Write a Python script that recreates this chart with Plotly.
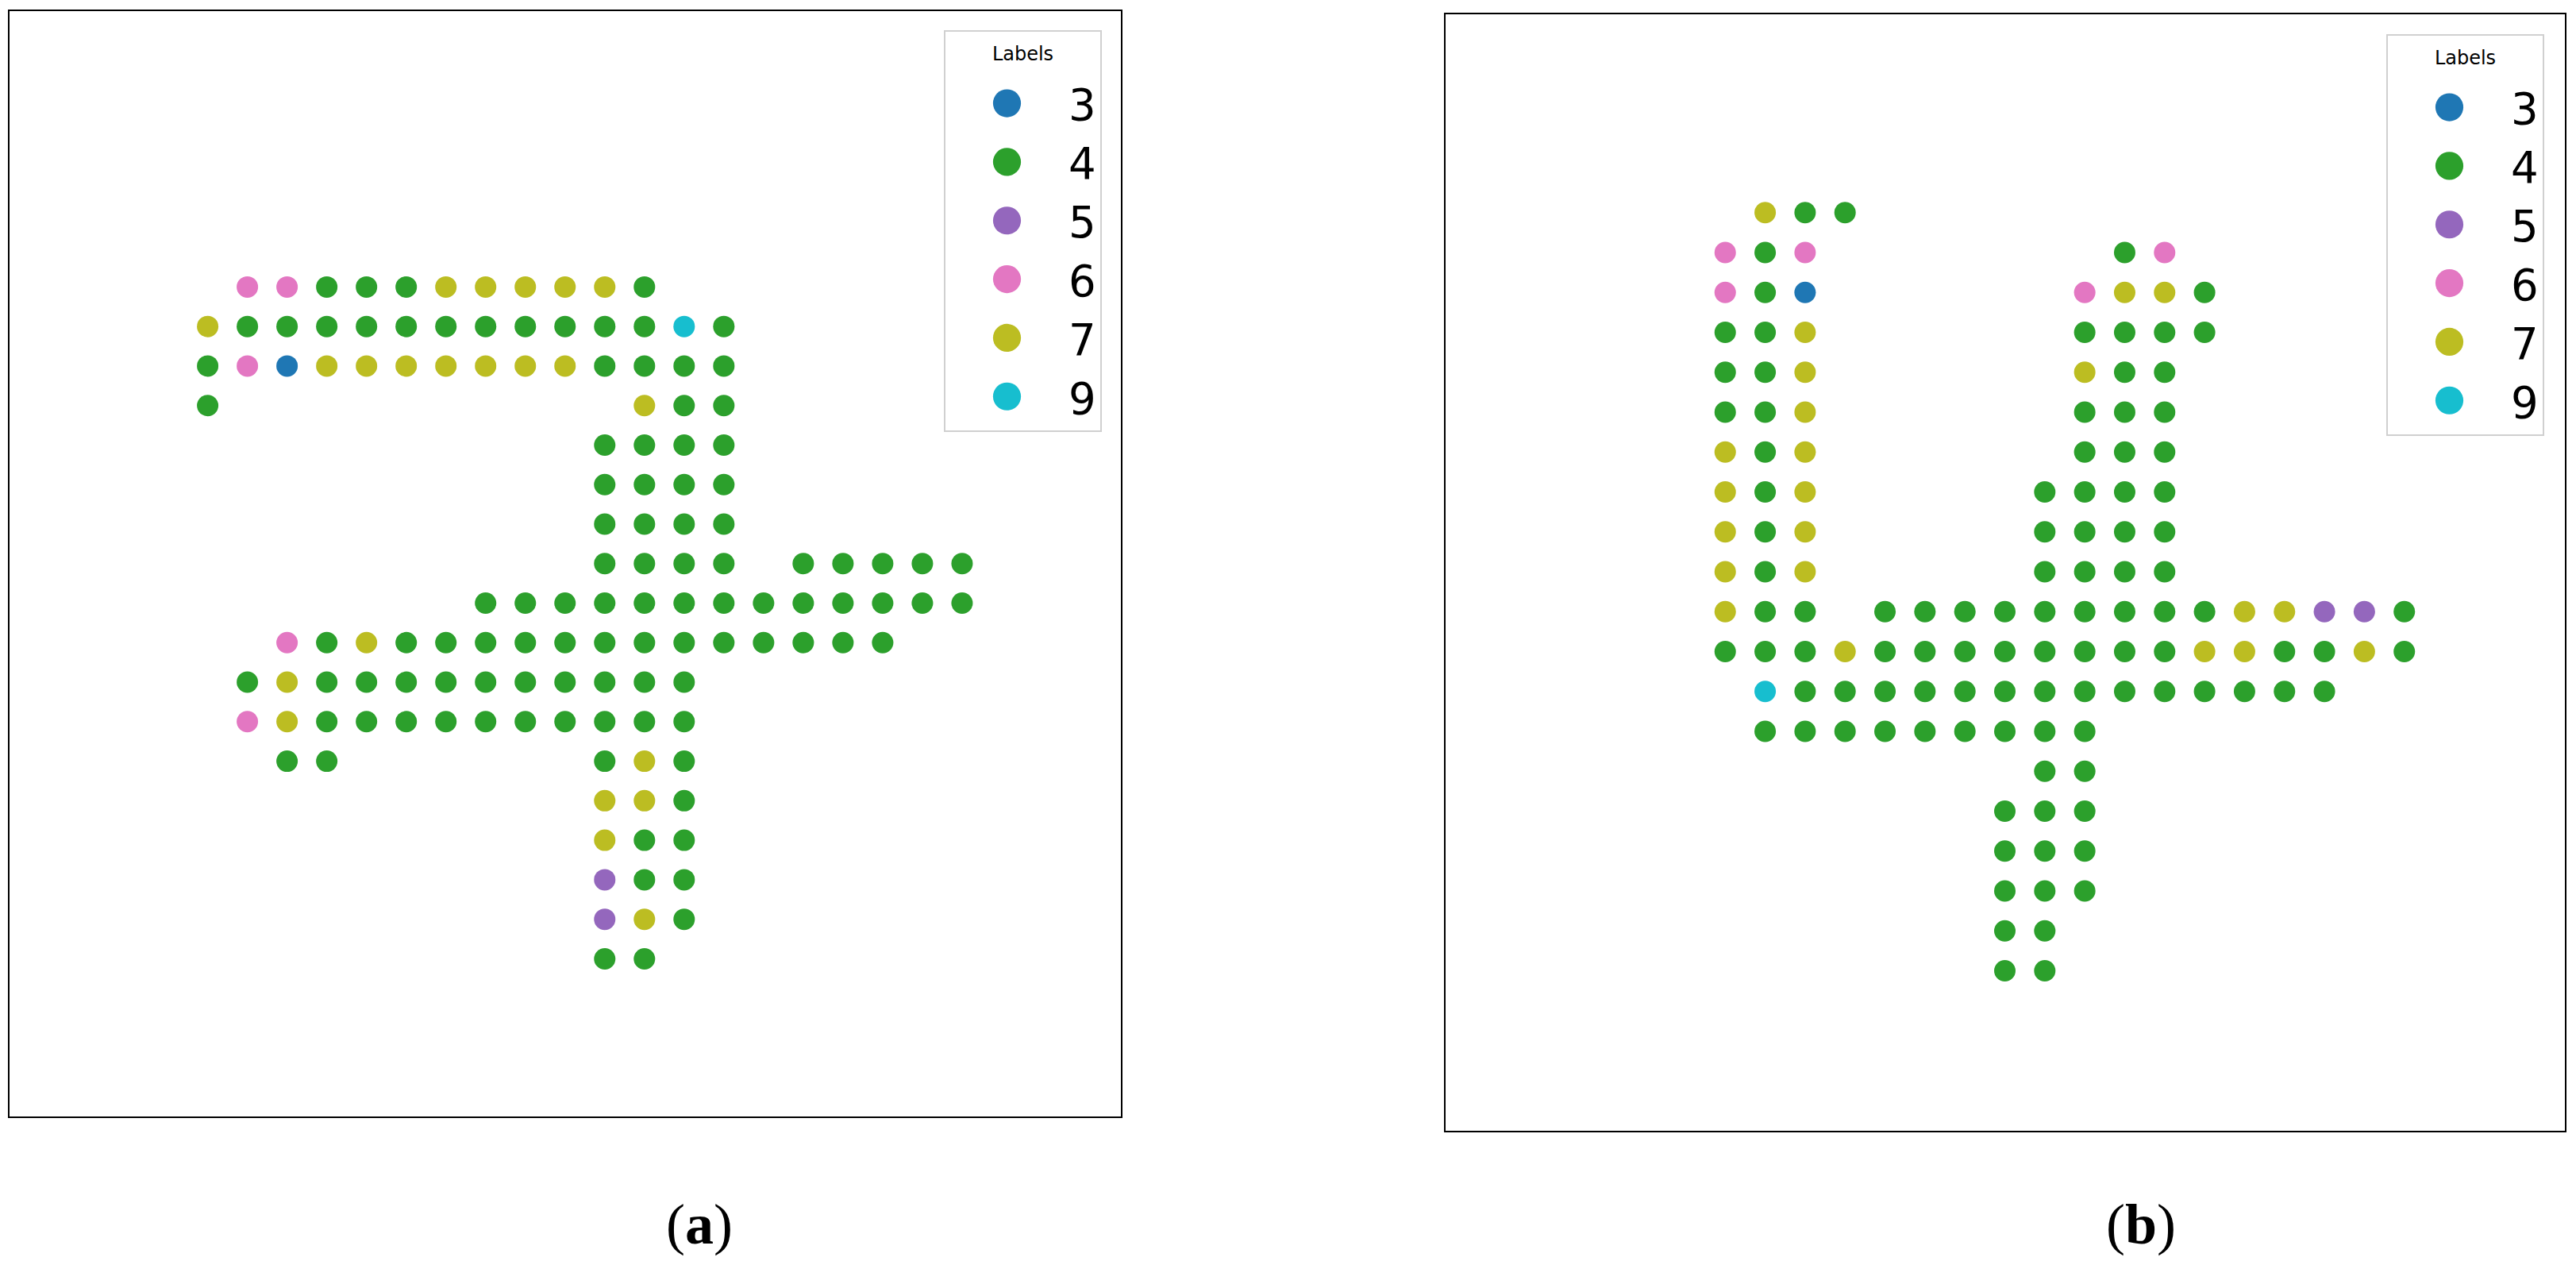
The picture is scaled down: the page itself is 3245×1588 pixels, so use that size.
import plotly.graph_objects as go

# ---- data: label grids ('.' = no spot) ----
LABELS = [3, 4, 5, 6, 7, 9]
COLORS = {3: "#1f77b4", 4: "#2ca02c", 5: "#9467bd", 6: "#e377c2", 7: "#bcbd22", 9: "#17becf"}

grid_a = [
    ".66444777774........",
    "74444444444494......",
    "46377777774444......",
    "4..........744......",
    "..........4444......",
    "..........4444......",
    "..........4444......",
    "..........4444.44444",
    ".......4444444444444",
    "..6474444444444444..",
    ".474444444444.......",
    ".674444444444.......",
    "..44......474.......",
    "..........774.......",
    "..........744.......",
    "..........544.......",
    "..........574.......",
    "..........44........",
]

grid_b = [
    ".744..............",
    "646.......46......",
    "643......6774.....",
    "447......4444.....",
    "447......744......",
    "447......444......",
    "747......444......",
    "747.....4444......",
    "747.....4444......",
    "747.....4444......",
    "744.44444444477554",
    "444744444444774474",
    ".944444444444444..",
    ".444444444........",
    "........44........",
    ".......444........",
    ".......444........",
    ".......444........",
    ".......44.........",
    ".......44.........",
]

captions = ["(<b>a</b>)", "(<b>b</b>)"]


def points(grid, label):
    xs, ys = [], []
    for r, row in enumerate(grid):
        for c, ch in enumerate(row):
            if ch != "." and int(ch) == label:
                xs.append(c)
                ys.append(r)
    return xs, ys


W, H = 3245, 1588
fig = go.Figure()

panels = [
    dict(grid=grid_a, xa="x", ya="y", leg="legend"),
    dict(grid=grid_b, xa="x2", ya="y2", leg="legend2"),
]
for p in panels:
    for lab in LABELS:
        xs, ys = points(p["grid"], lab)
        fig.add_trace(go.Scatter(
            x=xs, y=ys, mode="markers", name=str(lab),
            marker=dict(size=27, color=COLORS[lab], line=dict(width=0)),
            xaxis=p["xa"], yaxis=p["ya"], legend=p["leg"],
        ))

axis_common = dict(showgrid=False, zeroline=False, showticklabels=False, ticks="",
                   showline=True, mirror=True, linecolor="black", linewidth=2)

legend_common = dict(
    xanchor="right", yanchor="top", bgcolor="white",
    bordercolor="#d0d0d0", borderwidth=2,
    font=dict(size=54.5, family="DejaVu Sans", color="black"),
    title=dict(text='&nbsp;<br>&nbsp;<br><span style="font-size:24px">Labels</span><br>&nbsp;',
               side="top center",
               font=dict(size=9.25, family="DejaVu Sans", color="black")),
    itemwidth=145, itemsizing="trace", tracegroupgap=0,
)

fig.update_layout(
    width=W, height=H, margin=dict(l=0, r=0, t=0, b=0),
    paper_bgcolor="white", plot_bgcolor="white", showlegend=True,
    xaxis=dict(domain=[12 / W, 1412 / W], range=[-4.99, 23.0], anchor="y", **axis_common),
    yaxis=dict(domain=[1 - 1406 / H, 1 - 14 / H], range=[20.99, -6.98], anchor="x", **axis_common),
    xaxis2=dict(domain=[1821 / W, 3231 / W], range=[-7.0, 21.02], anchor="y2", **axis_common),
    yaxis2=dict(domain=[1 - 1424 / H, 1 - 18 / H], range=[23.01, -4.97], anchor="x2", **axis_common),
    legend=dict(x=1388 / W, y=1 - 38 / H, **legend_common),
    legend2=dict(x=3205 / W, y=1 - 43 / H, **legend_common),
    annotations=[
        dict(text=captions[0], x=881 / W, y=1 - 1542 / H, xref="paper", yref="paper",
             xanchor="center", yanchor="middle", showarrow=False,
             font=dict(size=72, family="Liberation Serif", color="black")),
        dict(text=captions[1], x=2697 / W, y=1 - 1542 / H, xref="paper", yref="paper",
             xanchor="center", yanchor="middle", showarrow=False,
             font=dict(size=72, family="Liberation Serif", color="black")),
    ],
)

post = """
document.body.style.margin='0';
document.body.style.overflow='hidden';
var gd = document.getElementById('{plot_id}');
gd.querySelectorAll('.legendpoints path.scatterpts').forEach(function(p){
  var t = p.getAttribute('transform') || '';
  p.setAttribute('transform', t + ' scale(2.2)');
});
"""

fig.write_html("out.html", post_script=post, config={"displayModeBar": False})
